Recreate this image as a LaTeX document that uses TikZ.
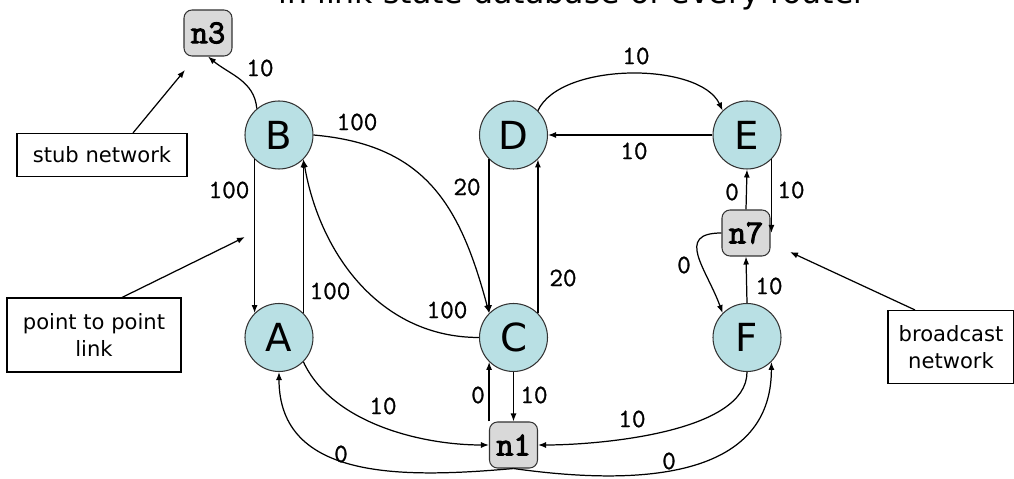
\documentclass[tikz,border=0pt]{standalone}
\usepackage{fontspec}
\setmainfont{DejaVu Sans}
\newfontfamily\netfont{Latin Modern Mono}[FakeBold=3]
\newfontfamily\costfont{Latin Modern Mono}[FakeBold=1]
\usetikzlibrary{arrows.meta}
\definecolor{routerfill}{HTML}{B9E0E4}
\definecolor{netfill}{HTML}{D9D9D9}

\begin{document}
\begin{tikzpicture}[>={Latex[length=1.6mm,width=1.2mm]},
  router/.style={circle, draw=black!80, fill=routerfill, line width=0.6pt, minimum size=1.36cm, inner sep=0pt, font=\fontsize{22}{24}\selectfont},
  net/.style={rectangle, rounded corners=0.16cm, draw=black!80, fill=netfill, line width=0.6pt, minimum width=0.96cm, minimum height=0.92cm, inner sep=0pt, font=\netfont\fontsize{19}{21}\selectfont},
  note/.style={rectangle, draw, fill=white, line width=0.6pt, inner sep=0pt, align=center, font=\fontsize{12}{15}\selectfont},
  cost/.style={inner sep=0pt, font=\costfont\fontsize{15}{17}\selectfont},
  link/.style={->, line width=0.7pt}]
\useasboundingbox (0,0) rectangle (20.28,9.58);

% title, cut off at the top
\node[anchor=base, font=\fontsize{18}{20}\selectfont] (title) at (11.45,9.50) {in link state database of every router};

% routers
\node[router] (B) at (5.58,6.88) {B};
\node[router] (D) at (10.27,6.88) {D};
\node[router] (E) at (14.94,6.88) {E};
\node[router] (A) at (5.58,2.83) {A};
\node[router] (C) at (10.27,2.83) {C};
\node[router] (F) at (14.94,2.83) {F};

% networks
\node[net] (n3) at (4.16,8.92) {n3};
\node[net] (n7) at (14.92,4.92) {n7};
\node[net] (n1) at (10.27,0.68) {n1};

% notes
\node[note, minimum width=3.4cm, minimum height=0.86cm] (stub) at (2.04,6.48) {stub network};
\node[note, minimum width=3.48cm, minimum height=1.48cm] (p2p) at (1.88,2.88) {point to point\\link};
\node[note, minimum width=2.52cm, minimum height=1.46cm] (bcast) at (19.02,2.64) {broadcast\\network};
\coordinate (stubtip) at (3.7,8.18);
\coordinate (p2ptip) at (4.9,4.84);
\coordinate (bcasttip) at (15.8,4.54);
\draw[link] ([xshift=0.62cm]stub.north) -- (stubtip);
\draw[link] ([xshift=0.56cm]p2p.north) -- (p2ptip);
\draw[link] ([xshift=-0.72cm]bcast.north) -- (bcasttip);

% links
\draw[link] (B.130) to[out=95,in=-40] (n3.south);
\draw[link] (B.225) -- (A.135);
\draw[link] (A.45) -- (B.-45);
\draw[link] (B.east) to[out=-5,in=105,looseness=1.15] (C.135);
\draw[link] (C.west) to[out=180,in=-80] (B.-45);
\draw[link] (D.225) -- (C.135);
\draw[link] (C.45) -- (D.-45);
\draw[link] (D.45) to[out=65,in=115,looseness=0.75] (E.135);
\draw[link] (E.west) -- (D.east);
\draw[link] (n7.north) -- (E.south);
\draw[link] (E.-45) -- (E.-45 |- n7.east);
\draw[link] (n7.west) to[out=180,in=110,looseness=1.5] (F.135);
\draw[link] (F.north) -- (n7.south);
\draw[link] (A.-45) to[out=-65,in=180,looseness=0.85] (n1.west);
\draw[link] (n1.south) to[out=185,in=-90,looseness=1.1] (A.south);
\draw[link] (n1.south) to[out=-8,in=-90,looseness=1.1] (F.-45);
\draw[link] (F.south) to[out=-90,in=0,looseness=0.7] (n1.east);
\draw[link] (C.south) -- (n1.north);
\draw[link] (n1.north -| C.-135) -- (C.-135);

% costs
\node[cost] (cBn3) at (5.2,8.22) {10};
\node[cost] (cBA) at (4.58,5.78) {100};
\node[cost] (cAB) at (6.6,3.76) {100};
\node[cost] (cBC) at (7.14,7.14) {100};
\node[cost] (cCB) at (8.94,3.38) {100};
\node[cost] (cDC) at (9.34,5.84) {20};
\node[cost] (cCD) at (11.26,4.02) {20};
\node[cost] (cDE) at (12.72,8.46) {10};
\node[cost] (cED) at (12.68,6.56) {10};
\node[cost] (cn7E) at (14.64,5.74) {0};
\node[cost] (cEn7) at (15.82,5.78) {10};
\node[cost] (cn7F) at (13.68,4.28) {0};
\node[cost] (cFn7) at (15.38,3.86) {10};
\node[cost] (cAn1) at (7.66,1.46) {10};
\node[cost] (cn1A) at (6.82,0.5) {0};
\node[cost] (cn1F) at (13.38,0.36) {0};
\node[cost] (cFn1) at (12.64,1.2) {10};
\node[cost] (cCn1) at (10.68,1.68) {10};
\node[cost] (cn1C) at (9.56,1.68) {0};
\end{tikzpicture}
\end{document}
